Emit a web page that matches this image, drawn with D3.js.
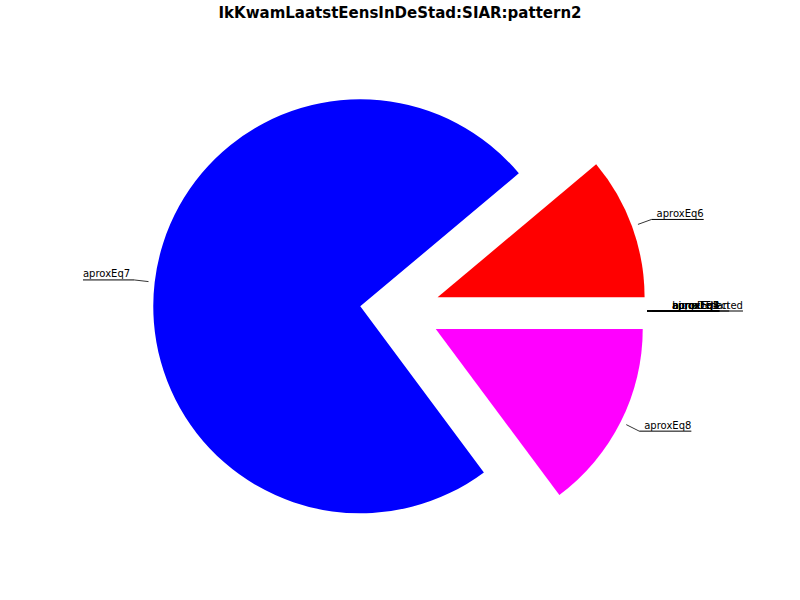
<!DOCTYPE html>
<html><head><meta charset="utf-8">
<script src="https://cdn.jsdelivr.net/npm/d3@7"></script>
<style>body{margin:0;background:#fff;}svg{display:block;}text{font-family:"DejaVu Sans",sans-serif;}</style>
</head><body>
<svg id="c" width="800" height="600"></svg>
<script>
const title = "IkKwamLaatstEensInDeStad:SIAR:pattern2";
const categories = ["aproxEq6","aproxEq7","aproxEq8","aproxEq1","aproxEq2","aproxEq3","aproxEq4","aproxEq5","biggerThan","noneDetected"];
const values = [3, 20, 4, 0, 0, 0, 0, 0, 0, 0];
const colors = ["#ff0000","#0000ff","#ff00ff","#00ff00","#00ffff","#ffff00","#000000","#808080","#800000","#008000"];

const svg = d3.select("#c");
const cx = 400, cy = 311, r = 207, explode = 40;

svg.append("text").attr("x",400).attr("y",18).attr("text-anchor","middle")
  .attr("font-size",15).attr("font-weight","bold").text(title);

const data = categories.map((c,i)=>({name:c, value:values[i], color:colors[i]}));
const pie = d3.pie().sort(null).value(d=>d.value)
  .startAngle(Math.PI/2).endAngle(Math.PI/2 - 2*Math.PI);
const arcs = pie(data);
const arc = d3.arc().innerRadius(0).outerRadius(r);

const g = svg.append("g");
arcs.forEach(a=>{
  const m = (a.startAngle + a.endAngle)/2;
  const ox = cx + explode*Math.sin(m), oy = cy - explode*Math.cos(m);
  a.ox = ox; a.oy = oy; a.mid = m;
  if (a.data.value > 0) {
    g.append("path").attr("d", arc(a)).attr("fill", a.data.color)
      .attr("transform", `translate(${ox},${oy})`);
  }
});

// labels
const lg = svg.append("g");
arcs.forEach(a=>{
  const m = a.mid;
  const sx = Math.sin(m), sy = -Math.cos(m);
  const zero = a.data.value === 0;
  const f0 = zero ? 1.0 : 1.03, f1 = zero ? 1.025 : 1.1;
  const p0 = [a.ox + f0*r*sx, a.oy + f0*r*sy];
  const p1 = [a.ox + f1*r*sx, a.oy + f1*r*sy];
  const right = sx >= 0;
  const t = lg.append("text").attr("font-size",10).text(a.data.name)
    .attr("y", p1[1]-2.5);
  let x0, x1;
  if (right) {
    const tx = p1[0] + (zero ? 20 : 5);
    t.attr("x", tx).attr("text-anchor","start");
    const w = t.node().getComputedTextLength();
    x0 = p1[0]; x1 = tx + w;
  } else {
    const tx = p1[0] - 4;
    t.attr("x", tx).attr("text-anchor","end");
    const w = t.node().getComputedTextLength();
    x0 = tx - w; x1 = p1[0];
  }
  lg.append("line").attr("x1",p0[0]).attr("y1",p0[1]).attr("x2",p1[0]).attr("y2",p1[1])
    .attr("stroke","#000").attr("stroke-width",0.8);
  lg.append("line").attr("x1",x0).attr("y1",p1[1]).attr("x2",x1).attr("y2",p1[1])
    .attr("stroke","#000").attr("stroke-width",1);
});
</script>
</body></html>
